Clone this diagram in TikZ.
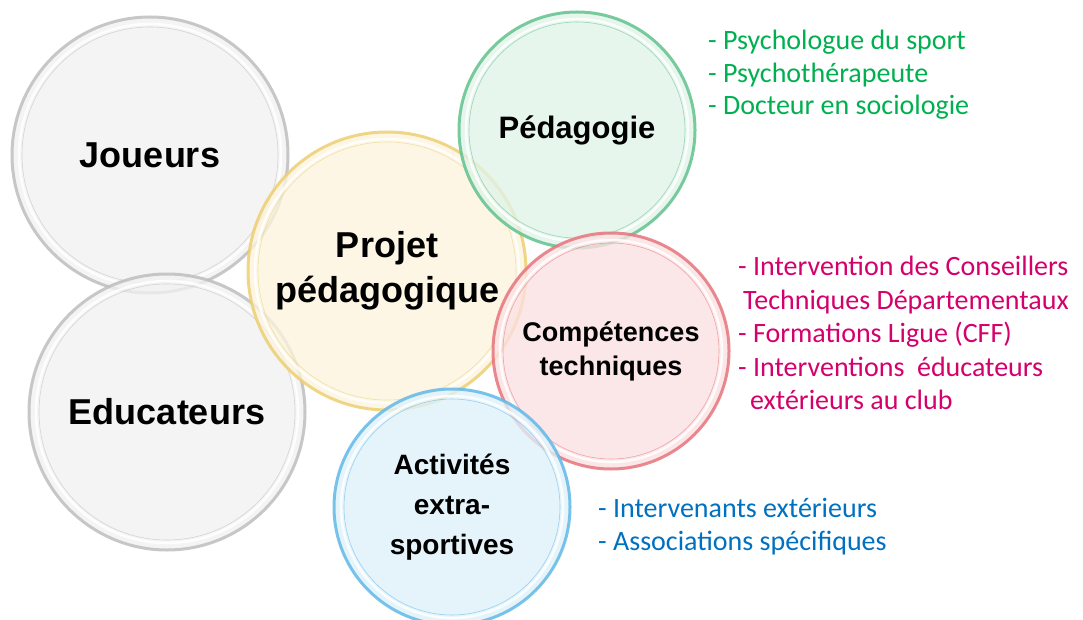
\documentclass[tikz,border=0pt]{standalone}
\usepackage{fontspec}
\setmainfont{Liberation Sans}
\newfontfamily\calibri{Carlito}

\definecolor{grisfond}{HTML}{F1F1F1}
\definecolor{grisbord}{HTML}{BEBEBE}
\definecolor{jaunefond}{HTML}{FCF4DE}
\definecolor{jaunebord}{HTML}{EDCF72}
\definecolor{vertfond}{HTML}{DFF3E8}
\definecolor{vertbord}{HTML}{62C28E}
\definecolor{rosefond}{HTML}{FBE0E2}
\definecolor{rosebord}{HTML}{E6747C}
\definecolor{bleufond}{HTML}{DEF1FA}
\definecolor{bleubord}{HTML}{62B9E6}
\definecolor{textevert}{HTML}{00B050}
\definecolor{texterose}{HTML}{D4006C}
\definecolor{textebleu}{HTML}{0070C0}

\tikzstyle{bulle} = [circle, draw, line width=3pt, fill opacity=0.78,
    draw opacity=0.85, text opacity=1, inner sep=0pt, align=center]
\tikzstyle{reflet} = [white, line width=2.5pt, opacity=0.85]
\tikzstyle{liste} = [anchor=north west, align=left, inner sep=0pt]

\begin{document}
\begin{tikzpicture}[x=1pt,y=-1pt]
\useasboundingbox (0,0) rectangle (1083,620);
\coordinate (cJ) at (150,155);
\coordinate (cE) at (167,412);
\coordinate (cP) at (387,271);
\coordinate (cPed) at (577,130);
\coordinate (cC) at (611,351);
\coordinate (cA) at (452,507);

% cercles
\node[bulle, draw=grisbord, fill=grisfond, minimum size=276pt,
    font=\bfseries\fontsize{36}{42}\selectfont] (joueurs) at (cJ) {Joueurs};
\draw[reflet] (joueurs.center) circle (131pt);
\draw[grisbord, line width=0.6pt, opacity=0.6] (joueurs.center) circle (128pt);
\node[bulle, draw=grisbord, fill=grisfond, minimum size=276pt,
    font=\bfseries\fontsize{36}{42}\selectfont] (educ) at (cE) {Educateurs};
\draw[reflet] (educ.center) circle (131pt);
\draw[grisbord, line width=0.6pt, opacity=0.6] (educ.center) circle (128pt);
\node[bulle, draw=jaunebord, fill=jaunefond, minimum size=278pt,
    font=\bfseries\fontsize{36}{45}\selectfont] (projet) at (cP) {Projet\\p\'edagogique};
\draw[reflet] (projet.center) circle (132pt);
\draw[jaunebord, line width=0.6pt, opacity=0.6] (projet.center) circle (129pt);
\node[bulle, draw=vertbord, fill=vertfond, minimum size=236pt,
    font=\bfseries\fontsize{31}{36}\selectfont] (peda) at (cPed) {P\'edagogie};
\draw[reflet] (peda.center) circle (111pt);
\draw[vertbord, line width=0.6pt, opacity=0.6] (peda.center) circle (108pt);
\node[bulle, draw=rosebord, fill=rosefond, minimum size=236pt,
    font=\bfseries\fontsize{27}{34}\selectfont] (comp) at (cC) {Comp\'etences\\techniques};
\draw[reflet] (comp.center) circle (111pt);
\draw[rosebord, line width=0.6pt, opacity=0.6] (comp.center) circle (108pt);
\node[bulle, draw=bleubord, fill=bleufond, minimum size=236pt,
    font=\bfseries\fontsize{28}{40}\selectfont] (activ) at (cA) {Activit\'es\\extra-\\sportives};
\draw[reflet] (activ.center) circle (111pt);
\draw[bleubord, line width=0.6pt, opacity=0.6] (activ.center) circle (108pt);

% listes
\node[liste, textevert, font=\calibri\fontsize{28}{32.5}\selectfont] (lvert) at (708,30)
    {- Psychologue du sport\\- Psychoth\'erapeute\\- Docteur en sociologie};
\node[liste, texterose, font=\calibri\fontsize{28}{33.5}\selectfont] (lrose) at (738,256)
    {- Intervention des Conseillers\\\hspace{5pt}Techniques D\'epartementaux\\- Formations Ligue (CFF)\\- Interventions\ \ \'educateurs\\\hspace{12pt}ext\'erieurs au club};
\node[liste, textebleu, font=\calibri\fontsize{28}{33.5}\selectfont] (lbleu) at (598,498)
    {- Intervenants ext\'erieurs\\- Associations sp\'ecifiques};
\end{tikzpicture}
\end{document}
